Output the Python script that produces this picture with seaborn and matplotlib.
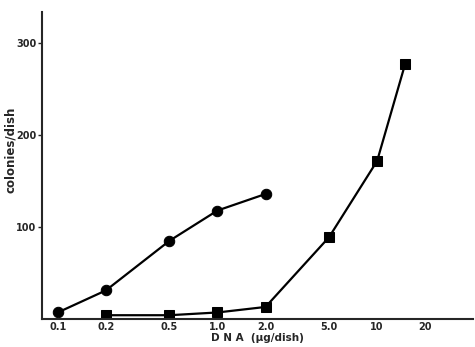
import matplotlib
matplotlib.use("Agg")
import matplotlib.pyplot as plt
import seaborn as sns
import pandas as pd
from matplotlib.ticker import FixedLocator, FixedFormatter, NullLocator

sns.set_style("ticks")
plt.rcParams['font.family'] = ['DejaVu Sans']

circle_dna = [0.1, 0.2, 0.5, 1.0, 2.0]
circle_colonies = [7, 31, 85, 118, 136]
square_dna = [0.2, 0.5, 1.0, 2.0, 5.0, 10, 15]
square_colonies = [4, 4, 7, 13, 89, 172, 278]
xtick_values = [0.1, 0.2, 0.5, 1.0, 2.0, 5.0, 10, 20]
xtick_labels = ["0.1", "0.2", "0.5", "1.0", "2.0", "5.0", "10", "20"]
ytick_values = [100, 200, 300]

df_c = pd.DataFrame({"dna": circle_dna, "colonies": circle_colonies})
df_s = pd.DataFrame({"dna": square_dna, "colonies": square_colonies})

fig = plt.figure(figsize=(4.75, 3.47), dpi=100)
ax = fig.add_axes([0.088, 0.081, 0.908, 0.884])

sns.lineplot(data=df_c, x="dna", y="colonies", ax=ax, color="black", lw=1.6,
             marker="o", markersize=7.5, markeredgecolor="black", markerfacecolor="black")
sns.lineplot(data=df_s, x="dna", y="colonies", ax=ax, color="black", lw=1.6,
             marker="s", markersize=7.5, markeredgecolor="black", markerfacecolor="black")

ax.set_xscale("log")
ax.set_xlim(0.0794, 39.9)
ax.set_ylim(0, 334)
ax.xaxis.set_major_locator(FixedLocator(xtick_values))
ax.xaxis.set_major_formatter(FixedFormatter(xtick_labels))
ax.xaxis.set_minor_locator(NullLocator())
ax.set_yticks(ytick_values)
ax.set_yticklabels([str(v) for v in ytick_values])

for s in ["top", "right"]:
    ax.spines[s].set_visible(False)
ax.spines["left"].set_linewidth(1.5)
ax.spines["bottom"].set_linewidth(1.5)
ax.tick_params(axis="x", length=0, pad=2, labelsize=7)
ax.tick_params(axis="y", length=3, width=1, pad=1, labelsize=7)
for lab in ax.get_xticklabels() + ax.get_yticklabels():
    lab.set_fontweight("bold")

ax.set_xlabel("D N A  (μg/dish)", fontsize=7.5, fontweight="bold", labelpad=1)
ax.set_ylabel("colonies/dish", fontsize=8.5, fontweight="bold")
ax.yaxis.set_label_coords(-0.058, 0.55)

fig.savefig("out.png", dpi=100)
